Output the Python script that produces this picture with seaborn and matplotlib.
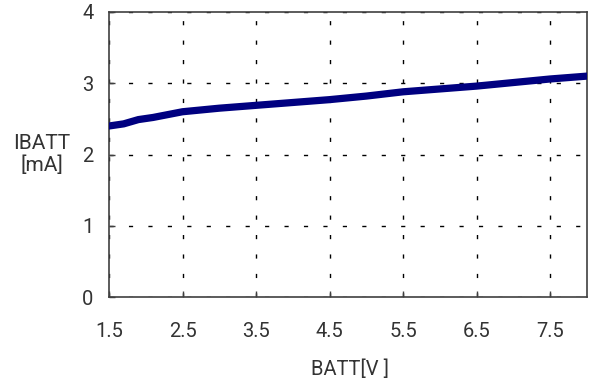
import matplotlib
matplotlib.use("Agg")
import matplotlib.pyplot as plt
import seaborn as sns
import pandas as pd

batt_v = [1.5, 1.7, 1.9, 2.1, 2.5, 3.0, 3.5, 4.0, 4.5, 5.0, 5.5, 6.0, 6.5, 7.0, 7.5, 8.0]
ibatt_ma = [2.40, 2.43, 2.49, 2.52, 2.60, 2.65, 2.69, 2.73, 2.77, 2.82, 2.88, 2.92, 2.96, 3.01, 3.06, 3.10]
x_ticks = [1.5, 2.5, 3.5, 4.5, 5.5, 6.5, 7.5]
y_ticks = [0, 1, 2, 3, 4]

sns.set_style("white")
plt.rcParams['font.family'] = ['Roboto', 'DejaVu Sans']
plt.rcParams['font.weight'] = 'normal'

df = pd.DataFrame({"BATT": batt_v, "IBATT": ibatt_ma})

fig = plt.figure(figsize=(5.9, 3.83), dpi=100)
ax = fig.add_axes([0.1847, 0.2245, 0.9949 - 0.1847, 0.9687 - 0.2245])
sns.lineplot(data=df, x="BATT", y="IBATT", ax=ax, color="#000080", linewidth=5.2, zorder=3)

ax.set_xlim(1.5, 8.0)
ax.set_ylim(0, 4)
ax.set_xticks(x_ticks)
ax.set_yticks(y_ticks)
ax.set_xticklabels([f"{v:.1f}" for v in x_ticks])
ax.grid(True, color="black", linestyle=(0, (3, 11)), linewidth=1)
for s in ax.spines.values():
    s.set_color("#404040")
    s.set_linewidth(1.2)
txt = "#333333"
ax.tick_params(axis="x", direction="in", length=4, width=1, colors="#404040", labelcolor=txt,
               labelsize=14.5, pad=18, bottom=True)
ax.tick_params(axis="y", direction="in", length=4, width=1, colors="#404040", labelcolor=txt,
               labelsize=14.5, pad=11, left=True)
ax.set_xlabel("BATT[V ]", fontsize=14.5, color=txt, va="center")
ax.xaxis.set_label_coords(0.505, -0.255)
ax.set_ylabel("IBATT\n[mA]", fontsize=15, color=txt, rotation=0, ha="center", va="center",
              linespacing=1.2)
ax.yaxis.set_label_coords(-0.14, 0.50)

fig.savefig("out.png", dpi=100)
